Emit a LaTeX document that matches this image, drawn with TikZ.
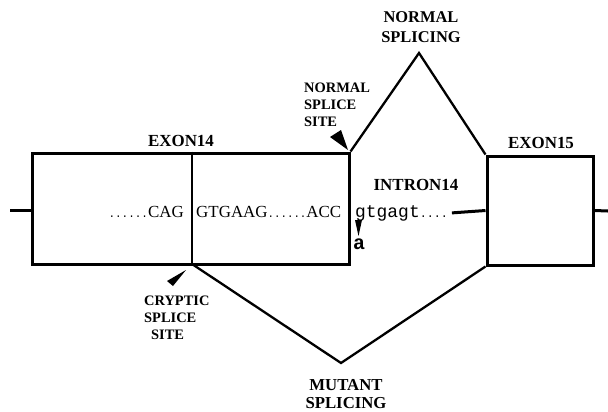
\documentclass[tikz,border=0pt]{standalone}
\usepackage{fontspec}
\setmainfont{Liberation Serif}
\newfontfamily\monof{Liberation Mono}
\begin{document}
\begin{tikzpicture}[x=1bp,y=-1bp,
  exonbox/.style={draw, line width=3bp, inner sep=0pt},
  stub/.style={line width=3bp},
  spliceline/.style={line width=2.3bp, line join=miter},
  biglabel/.style={font=\fontsize{17}{18.5}\selectfont\bfseries, inner sep=0pt, align=center},
  sitelabel/.style={font=\fontsize{14.5}{16.8}\selectfont\bfseries, inner sep=0pt, align=left},
  seq/.style={font=\fontsize{17}{18}\selectfont, inner sep=0pt},
  pointer/.style={fill=black}]
\useasboundingbox (0,0) rectangle (608,411);

% exon boxes
\node[exonbox, minimum width=316bp, minimum height=111bp] (ex14) at (191,208.5) {};
\node[exonbox, minimum width=106bp, minimum height=109bp] (ex15) at (540,210.5) {};

% flanking sequence and the cryptic site inside exon 14
\coordinate (lend) at (10,210);
\coordinate (rend) at (608,211);
\coordinate (cryp) at (192,264);
\draw[stub] (lend) -- (ex14.west |- lend);
\draw[stub] (ex15.east) -- (rend);
\draw[line width=2bp] (cryp |- ex14.north) -- (cryp);

% splicing paths
\coordinate (napex) at (419,53);
\coordinate (mapex) at (341,363);
\draw[spliceline] (ex14.north east) -- (napex) -- (ex15.north west);
\draw[spliceline] (cryp) -- (mapex) -- (ex15.south west);

% labels
\node[biglabel] (l14) at (181,141) {EXON14};
\node[biglabel] (l15) at (541,143) {EXON15};
\node[biglabel] (lin) at (416,185) {INTRON14};
\node[biglabel, font=\fontsize{16.5}{20}\selectfont\bfseries] (lns) at (421,27) {NORMAL\\SPLICING};
\node[biglabel, font=\fontsize{16.8}{18.5}\selectfont\bfseries] (lms) at (346,394) {MUTANT\\SPLICING};
\node[sitelabel, anchor=west] (lsite) at (304,105) {NORMAL\\SPLICE\\SITE};
\node[sitelabel, anchor=west] (lcryp) at (144,318) {CRYPTIC\\SPLICE\\\hspace*{7bp}SITE};

% sequences
\node[seq, anchor=base east] (s1) at (184,217) {{\monof\fontsize{11}{12}\selectfont ......}CAG};
\node[seq, anchor=base west] (s2) at (196,217) {GTGAAG{\monof\fontsize{10.8}{12}\selectfont ......}ACC};
\node[seq, anchor=base west] (s3) at (355,217) {{\monof\fontsize{18}{18}\selectfont gtgagt}{\monof\fontsize{11.7}{12}\selectfont ....}};
\draw[stub] ([xshift=4bp]s3.east) -- (ex15.west);

% mutation marker
\fill[pointer] (355,220) -- (362,220) -- (358.5,236) -- cycle;
\node[inner sep=0pt, font=\monof\bfseries\fontsize{20}{20}\selectfont] (mut) at (359,244) {a};

% splice site pointers
\fill[pointer] (330,137) -- (341,130) -- (348,150) -- cycle;
\fill[pointer] (186,270) -- (167,281) -- (173,286) -- cycle;
\end{tikzpicture}
\end{document}
